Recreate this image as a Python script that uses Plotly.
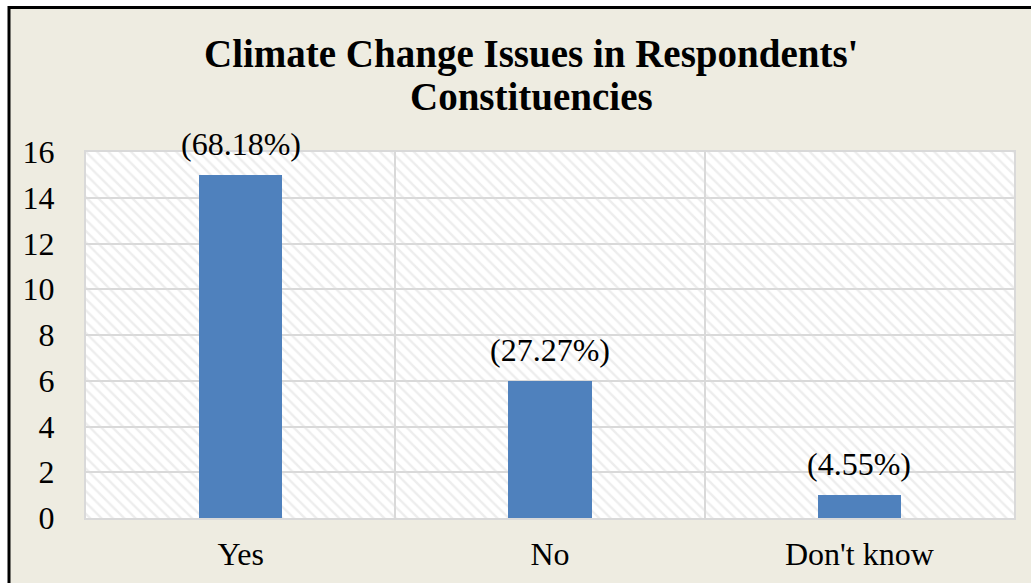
import plotly.graph_objects as go

# Survey responses: number of respondents per answer
categories = ["Yes", "No", "Don't know"]
counts = [15, 6, 1]
y_ticks = [0, 2, 4, 6, 8, 10, 12, 14, 16]
title_lines = ["Climate Change Issues in Respondents'", "Constituencies"]

total = sum(counts)
pct_labels = [f"({c / total * 100:.2f}%)" for c in counts]

W, H = 1031, 583
L, R, T, B = 86, 17, 152, 65
pw, ph = W - L - R, H - T - B


def px_x(px):
    return (px - L) / pw


def px_y(py):
    return (H - B - py) / ph


SERIF = "Liberation Serif, Times New Roman, serif"
TAN = "#EEECE1"
GRID = "#D9D9D9"
BLUE = "#4F81BD"
LABEL_SIZE = 32

fig = go.Figure()

# Hatched plot-area fill (one bar spanning all three categories)
fig.add_trace(go.Bar(
    x=[categories[1]], y=[y_ticks[-1]], width=[3],
    marker=dict(
        color="rgba(0,0,0,0)",
        line=dict(width=0),
        pattern=dict(shape="\\", fgcolor="#DCDCDC", bgcolor="rgba(0,0,0,0)",
                     size=8, solidity=0.3),
    ),
    hoverinfo="skip", showlegend=False,
))

# Response counts
fig.add_trace(go.Bar(
    x=categories, y=counts, width=0.27,
    marker=dict(color=BLUE, line=dict(width=0)),
    showlegend=False,
))

# Percentage labels above each bar
for cat, val, lab in zip(categories, counts, pct_labels):
    fig.add_annotation(
        x=cat, y=val, text=lab, showarrow=False,
        yanchor="bottom", yshift=11,
        font=dict(family=SERIF, size=LABEL_SIZE, color="#000000"),
    )

# Two-line bold title
for line, py in zip(title_lines, [54, 96]):
    fig.add_annotation(
        xref="paper", yref="paper", x=px_x(531), y=px_y(py),
        text=f"<b>{line}</b>", showarrow=False,
        xanchor="center", yanchor="middle",
        font=dict(family=SERIF, size=39, color="#000000"),
    )

# Outer chart frame: white margin strips and black border
shapes = [
    dict(type="rect", xref="paper", yref="paper",
         x0=px_x(-5), x1=px_x(8), y0=px_y(600), y1=px_y(-5),
         fillcolor="white", line=dict(width=0), layer="above"),
    dict(type="rect", xref="paper", yref="paper",
         x0=px_x(-5), x1=px_x(1040), y0=px_y(6), y1=px_y(-5),
         fillcolor="white", line=dict(width=0), layer="above"),
    dict(type="rect", xref="paper", yref="paper",
         x0=px_x(9), x1=px_x(1045), y0=px_y(600), y1=px_y(7.5),
         fillcolor="rgba(0,0,0,0)", line=dict(color="black", width=3),
         layer="above"),
]

fig.update_layout(
    width=W, height=H,
    margin=dict(l=L, r=R, t=T, b=B, pad=0, autoexpand=False),
    paper_bgcolor=TAN,
    plot_bgcolor="white",
    barmode="overlay",
    bargap=0,
    shapes=shapes,
    xaxis=dict(
        type="category", categoryorder="array", categoryarray=categories,
        range=[-0.5, 2.5], tickson="boundaries", automargin=False,
        showgrid=True, gridcolor=GRID, gridwidth=2,
        showline=True, linecolor=GRID, linewidth=2, mirror=True,
        ticks="", ticklabelstandoff=7,
        tickfont=dict(family=SERIF, size=LABEL_SIZE, color="#000000"),
    ),
    yaxis=dict(
        range=[0, 16], tickvals=y_ticks, automargin=False,
        showgrid=True, gridcolor=GRID, gridwidth=2,
        zeroline=False,
        showline=True, linecolor=GRID, linewidth=2, mirror=True,
        ticks="outside", ticklen=23, tickcolor="rgba(0,0,0,0)",
        tickfont=dict(family=SERIF, size=LABEL_SIZE, color="#000000"),
    ),
)

fig.write_html("out.html")
